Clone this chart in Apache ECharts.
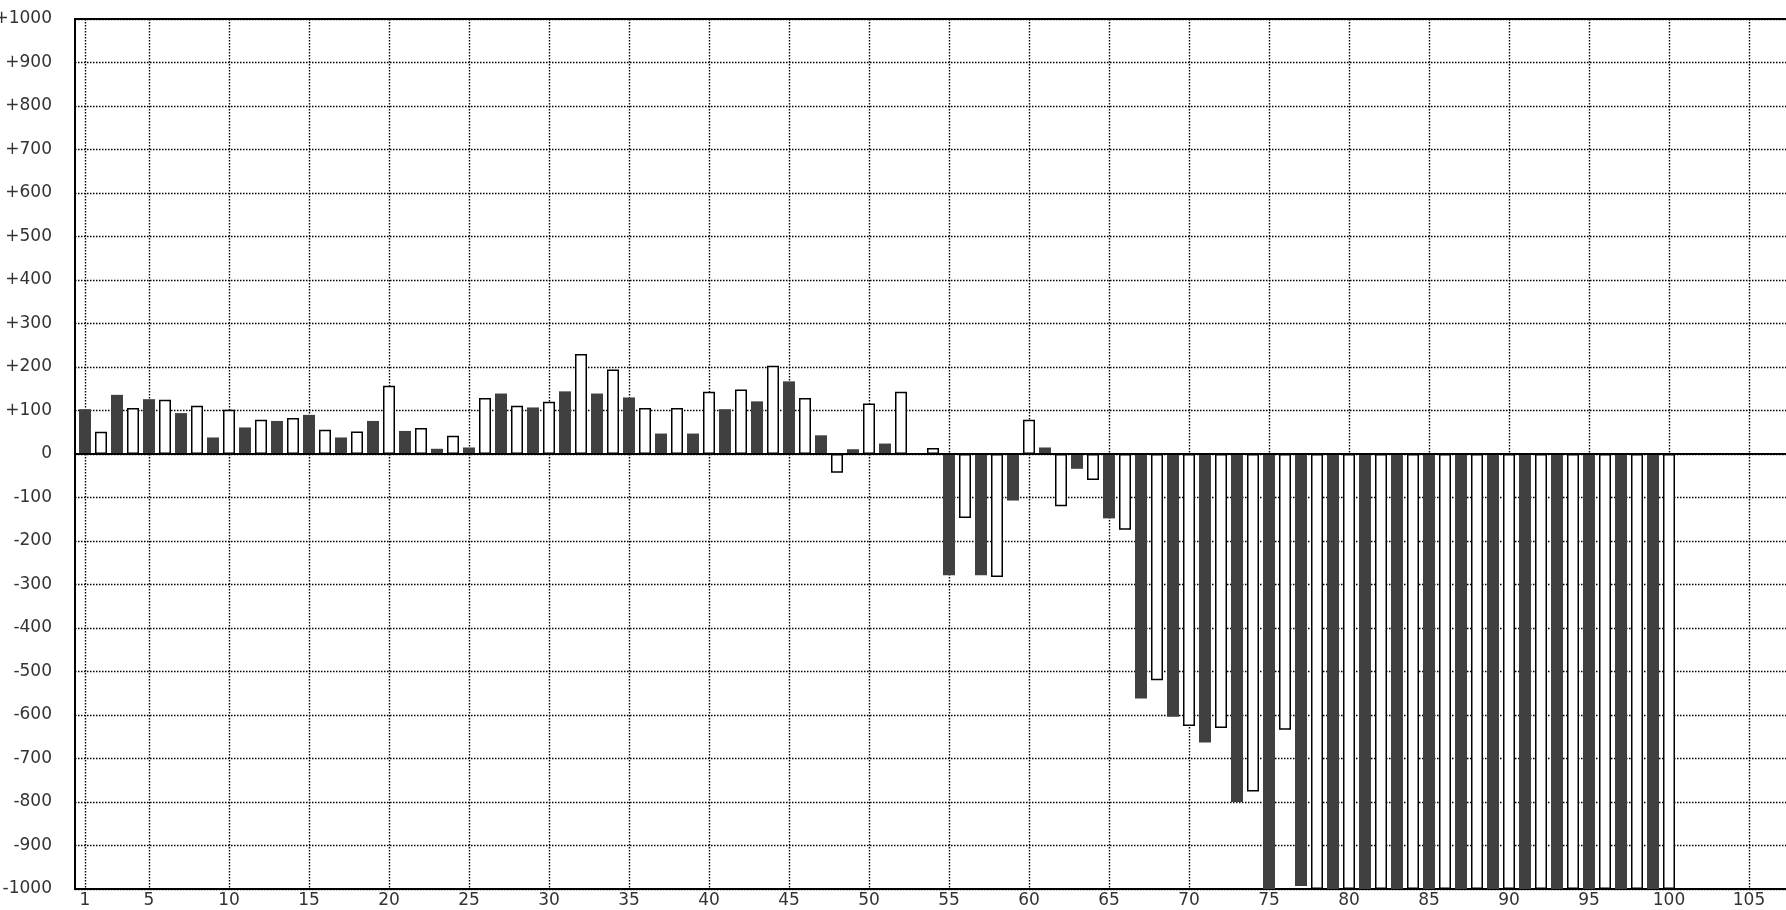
<!DOCTYPE html>
<html>
<head>
<meta charset="utf-8">
<style>
  html, body { margin: 0; padding: 0; background: #fff; }
  #chart { width: 1786px; height: 910px; }
</style>
<script src="https://cdn.jsdelivr.net/npm/echarts@6/dist/echarts.min.js"></script>
</head>
<body>
<div id="chart"></div>
<script>
// Bar positions (x categories)
const positions = [
  1,2,3,4,5,6,7,8,9,10,11,12,13,14,15,16,17,18,19,20,
  21,22,23,24,25,26,27,28,29,30,31,32,33,34,35,36,37,38,39,40,
  41,42,43,44,45,46,47,48,49,50,51,52,53,54,55,56,57,58,59,60,
  61,62,63,64,65,66,67,68,69,70,71,72,73,74,75,76,77,78,79,80,
  81,82,83,84,85,86,87,88,89,90,91,92,93,94,95,96,97,98,99,100
];
// Bar values
const values = [
  103, 51, 136, 106, 126, 125, 94, 111, 38, 102,
  61, 79, 76, 83, 90, 56, 38, 52, 76, 157,
  53, 60, 12, 42, 15, 129, 139, 111, 107, 120,
  144, 230, 139, 194, 130, 106, 47, 106, 47, 143,
  103, 148, 121, 203, 167, 129, 43, -43, 11, 116,
  24, 143, 0, 14, -279, -147, -279, -283, -107, 79,
  15, -120, -34, -60, -148, -174, -562, -520, -604, -625,
  -663, -630, -800, -776, -1000, -634, -993, -1000, -1000, -1000,
  -1000, -1000, -1000, -1000, -1000, -1000, -1000, -1000, -1000, -1000,
  -1000, -1000, -1000, -1000, -1000, -1000, -1000, -1000, -1000, -1000
];
// Tick labels
const xTickValues = [1,5,10,15,20,25,30,35,40,45,50,55,60,65,70,75,80,85,90,95,100,105];
const yMin = -1000, yMax = 1000, yStep = 100;

const FONT = 'DejaVu Sans';
const gridLeft = 75, gridRight = -20, chartW = 1786;
const pxPerUnit = 16;
const xMin = 0.375;
const xMax = xMin + (chartW - gridLeft - gridRight) / pxPerUnit;

const darkStyle = { color: '#404040', borderWidth: 0 };
const lightStyle = { color: '#ffffff', borderColor: '#000000', borderWidth: 1.5 };

const barData = positions.map((p, i) => ({
  value: [p, values[i]],
  itemStyle: (i % 2 === 0) ? darkStyle : lightStyle
}));

const gridLine = { show: true, lineStyle: { color: '#000', width: 1.4, type: [1.5, 1.5] } };

const chart = echarts.init(document.getElementById('chart'), null, { renderer: 'canvas' });
chart.setOption({
  animation: false,
  backgroundColor: '#ffffff',
  grid: {
    left: gridLeft, right: gridRight, top: 19, bottom: 21,
    show: true, borderColor: '#000', borderWidth: 2, backgroundColor: 'transparent',
    containLabel: false,
    outerBoundsMode: 'none'
  },
  xAxis: {
    type: 'value',
    min: xMin,
    max: xMax,
    axisLine: { show: true, onZero: false, lineStyle: { color: '#000', width: 2 } },
    axisTick: { show: false, customValues: xTickValues },
    axisLabel: {
      customValues: xTickValues,
      color: '#333', fontFamily: FONT, fontSize: 17, margin: 3,
      formatter: v => String(v)
    },
    splitLine: gridLine
  },
  yAxis: {
    type: 'value',
    min: yMin, max: yMax, interval: yStep,
    axisLine: { show: true, lineStyle: { color: '#000', width: 2 } },
    axisTick: { show: false },
    axisLabel: {
      color: '#333', fontFamily: FONT, fontSize: 17, margin: 23,
      formatter: v => (v > 0 ? '+' + v : String(v))
    },
    splitLine: gridLine
  },
  series: [{
    type: 'bar',
    barWidth: 12,
    data: barData,
    markLine: {
      silent: true,
      symbol: 'none',
      label: { show: false },
      lineStyle: { color: '#000', width: 2, type: 'solid' },
      data: [{ yAxis: 0 }]
    }
  }]
});
</script>
</body>
</html>
